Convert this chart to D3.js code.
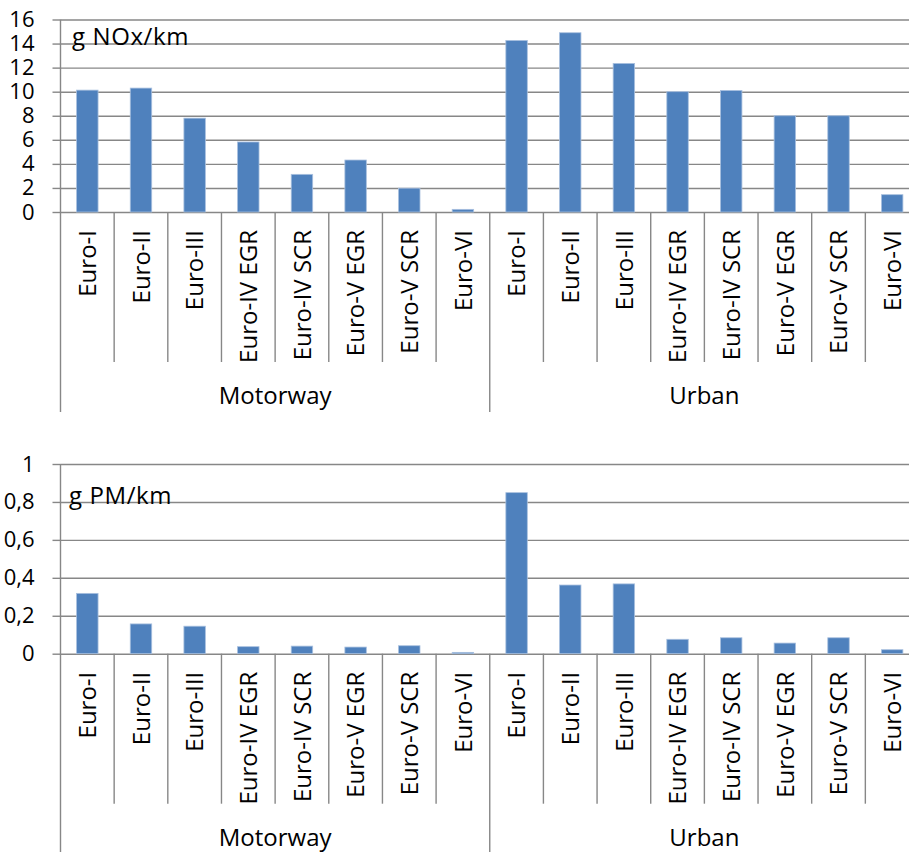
<!DOCTYPE html>
<html>
<head>
<meta charset="utf-8">
<script src="https://cdn.jsdelivr.net/npm/d3@7"></script>
<style>
  html, body { margin: 0; padding: 0; background: #fff; }
  svg { display: block; font-family: "Open Sans", "Noto Sans", sans-serif; }
</style>
</head>
<body>
<svg id="chart" width="909" height="852"></svg>
<script>
// ---- data ----
const groups = ["Motorway", "Urban"];
const categories = ["Euro-I", "Euro-II", "Euro-III", "Euro-IV EGR", "Euro-IV SCR", "Euro-V EGR", "Euro-V SCR", "Euro-VI"];
const noxMotorway = [10.13, 10.3, 7.8, 5.82, 3.13, 4.32, 1.98, 0.22];
const noxUrban    = [14.26, 14.9, 12.35, 10.0, 10.1, 8.0, 8.0, 1.44];
const pmMotorway  = [0.318, 0.157, 0.145, 0.037, 0.040, 0.035, 0.042, 0.007];
const pmUrban     = [0.849, 0.362, 0.368, 0.076, 0.084, 0.056, 0.084, 0.021];
const noxTicks = [0, 2, 4, 6, 8, 10, 12, 14, 16];
const pmTicks  = [0, 0.2, 0.4, 0.6, 0.8, 1];
const noxTitle = "g NOx/km";
const pmTitle  = "g PM/km";

const svg = d3.select("#chart");
const BAR = "#4F81BD", GRID = "#878787", TEXT = "#000";

function panel(opts) {
  const {top, zero, yMax, ticks, fmt, motor, urban, title, titleX, titleY} = opts;
  const left = 60.5, right = 919;
  const g = svg.append("g");
  const rows = [];
  groups.forEach((grp, gi) => {
    const vals = gi === 0 ? motor : urban;
    categories.forEach((c, ci) => rows.push({key: grp + "|" + c, group: grp, cat: c, value: vals[ci]}));
  });
  const x = d3.scaleBand().domain(rows.map(d => d.key)).range([left, right]).paddingInner(0.6).paddingOuter(0.3);
  const y = d3.scaleLinear().domain([0, yMax]).range([zero, top]);
  const step = x.step();

  // gridlines
  g.append("g").attr("transform", `translate(${left},0)`)
    .call(d3.axisLeft(y).tickValues(ticks).tickSize(-(right - left)).tickFormat(""))
    .call(s => s.select(".domain").remove())
    .call(s => s.selectAll("text").remove())
    .call(s => s.selectAll("line").attr("stroke", GRID).attr("stroke-width", 1.4));

  // y axis with outer ticks + labels
  g.append("g").attr("transform", `translate(${left},0)`)
    .call(d3.axisLeft(y).tickValues(ticks).tickSize(8).tickPadding(18).tickFormat(fmt))
    .call(s => s.select(".domain").remove())
    .call(s => s.selectAll("line").attr("stroke", GRID).attr("stroke-width", 1.4))
    .call(s => s.selectAll("text").attr("fill", TEXT).style("font-size", "22px").style("font-family", "Open Sans, sans-serif"));

  // vertical axis line
  g.append("line").attr("x1", left).attr("x2", left).attr("y1", y(yMax)).attr("y2", zero + 200)
    .attr("stroke", GRID).attr("stroke-width", 1.4);

  // bars
  g.selectAll("rect.bar").data(rows).join("rect").attr("class", "bar")
    .attr("x", d => x(d.key)).attr("width", x.bandwidth())
    .attr("y", d => y(d.value)).attr("height", d => zero - y(d.value))
    .attr("fill", BAR).attr("stroke", "#a9c0df").attr("stroke-width", 0.8);

  // category dividers
  for (let i = 1; i <= rows.length; i++) {
    const xx = left + i * step;
    const isGroup = (i % categories.length === 0);
    g.append("line").attr("x1", xx).attr("x2", xx).attr("y1", zero).attr("y2", zero + (isGroup ? 200 : 150))
      .attr("stroke", GRID).attr("stroke-width", 1.4);
  }

  // category labels
  g.selectAll("text.cat").data(rows).join("text").attr("class", "cat")
    .attr("transform", d => `translate(${x(d.key) + x.bandwidth() / 2},${zero + 18}) rotate(-90)`)
    .attr("text-anchor", "end").attr("dy", "0.36em")
    .style("font-size", "24px").attr("fill", TEXT).text(d => d.cat);

  // group labels
  groups.forEach((grp, gi) => {
    const cx = left + (gi * categories.length + categories.length / 2) * step;
    g.append("text").attr("x", cx).attr("y", zero + 192)
      .attr("text-anchor", "middle").style("font-size", "24px").attr("fill", TEXT).text(grp);
  });

  // title
  g.append("text").attr("x", titleX).attr("y", titleY)
    .style("font-size", "24px").style("letter-spacing", "0.6px").attr("fill", TEXT).text(title);
}

panel({top: 19.5, zero: 212, yMax: 16, ticks: noxTicks, fmt: d3.format("d"),
       motor: noxMotorway, urban: noxUrban, title: noxTitle, titleX: 72, titleY: 44.5});
panel({top: 464, zero: 653.7, yMax: 1, ticks: pmTicks, fmt: d => (d === 0 || d === 1) ? String(d) : d.toFixed(1).replace(".", ","),
       motor: pmMotorway, urban: pmUrban, title: pmTitle, titleX: 69, titleY: 503.5});
</script>
</body>
</html>
